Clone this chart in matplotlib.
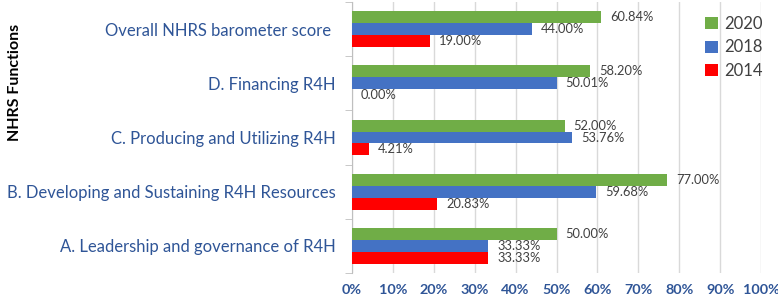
import matplotlib
matplotlib.use("Agg")
import matplotlib.pyplot as plt
import numpy as np

categories = ["A. Leadership and governance of R4H",
              "B. Developing and Sustaining R4H Resources",
              "C. Producing and Utilizing R4H",
              "D. Financing R4H",
              "Overall NHRS barometer score "]
v2014 = [33.33, 20.83, 4.21, 0.00, 19.00]
v2018 = [33.33, 59.68, 53.76, 50.01, 44.00]
v2020 = [50.00, 77.00, 52.00, 58.20, 60.84]
xticks = list(range(0, 101, 10))

plt.rcParams['font.family'] = ['Lato', 'DejaVu Sans']

fig = plt.figure(figsize=(7.78, 3.0), dpi=100)
ax = fig.add_axes([352/778, 1-273/300, (761-352)/778, (273-2)/300])

y = np.arange(len(categories))
h = 0.22
series = [(v2014, '#FF0000', '2014', -h), (v2018, '#4472C4', '2018', 0), (v2020, '#70AD47', '2020', h)]
handles = {}
for vals, col, lab, off in series:
    b = ax.barh(y + off, vals, height=h, color=col, label=lab, zorder=3)
    handles[lab] = b
    for yi, v in zip(y, vals):
        ax.annotate(f"{v:.2f}%", (v, yi + off), xytext=(6.5, 0), textcoords='offset points',
                    va='center', ha='left', fontsize=9.3, color='#404040')

ax.set_xlim(0, 100)
ax.set_ylim(-0.5, len(categories) - 0.5)
ax.set_xticks(xticks)
ax.set_xticklabels([f"{t}%" for t in xticks], fontsize=10.4, fontweight='bold', color='#2F5597')
ax.set_yticks(y)
ax.set_yticklabels(categories, fontsize=12, color='#2F5597')
ax.tick_params(axis='y', length=0, pad=12)
ax.tick_params(axis='x', length=0, pad=8)
ax.set_yticks(np.arange(-0.5, len(categories)), minor=True)
ax.tick_params(axis='y', which='minor', length=5, color='#BFBFBF')
ax.grid(axis='x', color='#D9D9D9', linewidth=1, zorder=0)
for s in ['top', 'right', 'bottom']:
    ax.spines[s].set_visible(False)
ax.spines['left'].set_color('#BFBFBF')

fig.text(0.019, 1-82/300, "NHRS Functions", rotation=90, fontsize=11.5, fontweight='bold',
         va='center', ha='center', color='black')

leg = fig.legend([handles['2020'], handles['2018'], handles['2014']], ['2020', '2018', '2014'],
                 loc='upper left', bbox_to_anchor=(705/778, 1-16/300), frameon=False,
                 fontsize=12, labelcolor='#404040', handlelength=0.75, handleheight=0.75,
                 handletextpad=0.4, labelspacing=0.45, borderpad=0, borderaxespad=0)

fig.savefig("out.png", dpi=100)
